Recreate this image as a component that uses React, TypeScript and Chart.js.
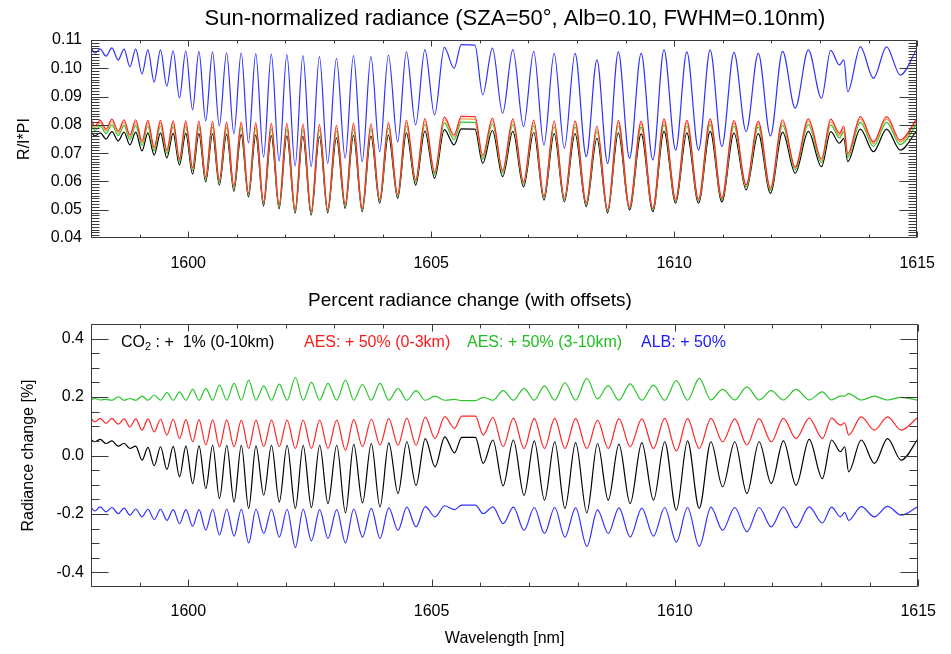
import { useEffect, useRef } from "react";
import { Chart, registerables } from "chart.js";

Chart.register(...registerables);

// ---------- wavelengths (nm) of absorption-line centres and of the continuum points between them
const LINE_NM = [1598.08, 1598.31, 1598.56, 1598.80, 1599.05, 1599.30, 1599.56, 1599.82, 1600.09, 1600.36, 1600.64, 1600.94, 1601.24, 1601.55, 1601.87, 1602.20, 1602.53, 1602.87, 1603.23, 1603.58, 1603.94, 1604.31, 1604.68, 1605.07, 1605.47, 1606.06, 1606.47, 1606.90, 1607.32, 1607.74, 1608.19, 1608.63, 1609.08, 1609.56, 1610.03, 1610.50, 1610.98, 1611.48, 1611.98, 1612.49, 1613.03, 1613.40, 1613.57, 1614.10, 1614.65];
const PEAK_NM = [1598.00, 1598.19, 1598.43, 1598.68, 1598.92, 1599.17, 1599.43, 1599.69, 1599.95, 1600.22, 1600.50, 1600.79, 1601.09, 1601.39, 1601.71, 1602.03, 1602.36, 1602.70, 1603.05, 1603.40, 1603.76, 1604.12, 1604.49, 1604.87, 1605.27, 1605.62, 1605.90, 1606.26, 1606.68, 1607.11, 1607.53, 1607.96, 1608.41, 1608.85, 1609.32, 1609.79, 1610.26, 1610.74, 1611.23, 1611.73, 1612.23, 1612.76, 1613.22, 1613.49, 1613.83, 1614.37, 1615.00];

// ---------- top panel: sun-normalized radiance
const TOP_BLUE_LINE = [0.1054, 0.1043, 0.1029, 0.1005, 0.0980, 0.0952, 0.0937, 0.0895, 0.0853, 0.0814, 0.0796, 0.0768, 0.0736, 0.0686, 0.0672, 0.0655, 0.0652, 0.0664, 0.0682, 0.0670, 0.0705, 0.0740, 0.0800, 0.0835, 0.1000, 0.0906, 0.0841, 0.0794, 0.0729, 0.0717, 0.0688, 0.0664, 0.0682, 0.0676, 0.0711, 0.0711, 0.0723, 0.0776, 0.0761, 0.0859, 0.0894, 0.1012, 0.0917, 0.0965, 0.0976];
const TOP_BLUE_PEAK = [0.1075, 0.1068, 0.1072, 0.1068, 0.1068, 0.1065, 0.1065, 0.1062, 0.1062, 0.1060, 0.1058, 0.1055, 0.1055, 0.1052, 0.1050, 0.1048, 0.1045, 0.1041, 0.1035, 0.1045, 0.1041, 0.1047, 0.1058, 0.1066, 0.1074, 0.1084, 0.1082, 0.1071, 0.1066, 0.1060, 0.1053, 0.1053, 0.1030, 0.1058, 0.1053, 0.1065, 0.1058, 0.1065, 0.1056, 0.1053, 0.1060, 0.1065, 0.1063, 0.1030, 0.1076, 0.1076, 0.1070];
const TOP_BLACK_LINE = [0.0761, 0.0750, 0.0743, 0.0729, 0.0708, 0.0693, 0.0683, 0.0658, 0.0626, 0.0598, 0.0587, 0.0566, 0.0545, 0.0513, 0.0503, 0.0488, 0.0481, 0.0489, 0.0505, 0.0493, 0.0523, 0.0540, 0.0587, 0.0611, 0.0729, 0.0664, 0.0617, 0.0581, 0.0534, 0.0528, 0.0511, 0.0489, 0.0499, 0.0493, 0.0523, 0.0523, 0.0528, 0.0570, 0.0558, 0.0629, 0.0652, 0.0735, 0.0670, 0.0705, 0.0711];
const TOP_BLACK_PEAK = [0.0776, 0.0772, 0.0776, 0.0774, 0.0774, 0.0772, 0.0772, 0.0770, 0.0770, 0.0769, 0.0768, 0.0766, 0.0766, 0.0764, 0.0762, 0.0761, 0.0760, 0.0758, 0.0754, 0.0762, 0.0760, 0.0764, 0.0772, 0.0778, 0.0783, 0.0786, 0.0785, 0.0780, 0.0777, 0.0773, 0.0769, 0.0769, 0.0752, 0.0772, 0.0768, 0.0777, 0.0772, 0.0777, 0.0771, 0.0769, 0.0774, 0.0777, 0.0776, 0.0752, 0.0785, 0.0785, 0.0781];
const TOP_RED_LINE = [0.0796, 0.0785, 0.0778, 0.0764, 0.0743, 0.0721, 0.0711, 0.0680, 0.0648, 0.0616, 0.0605, 0.0584, 0.0559, 0.0527, 0.0517, 0.0499, 0.0492, 0.0500, 0.0519, 0.0504, 0.0537, 0.0554, 0.0605, 0.0633, 0.0764, 0.0692, 0.0639, 0.0599, 0.0548, 0.0542, 0.0525, 0.0500, 0.0510, 0.0504, 0.0537, 0.0537, 0.0542, 0.0588, 0.0576, 0.0651, 0.0680, 0.0770, 0.0698, 0.0740, 0.0746];
const TOP_RED_PEAK = [0.0820, 0.0816, 0.0820, 0.0818, 0.0818, 0.0816, 0.0816, 0.0814, 0.0814, 0.0813, 0.0812, 0.0810, 0.0810, 0.0808, 0.0806, 0.0805, 0.0804, 0.0802, 0.0798, 0.0806, 0.0804, 0.0808, 0.0816, 0.0822, 0.0827, 0.0830, 0.0829, 0.0824, 0.0821, 0.0817, 0.0813, 0.0813, 0.0796, 0.0816, 0.0812, 0.0821, 0.0816, 0.0821, 0.0815, 0.0813, 0.0818, 0.0821, 0.0820, 0.0796, 0.0829, 0.0829, 0.0825];
const TOP_ORANGE_LINE = [0.0789, 0.0778, 0.0771, 0.0757, 0.0736, 0.0715, 0.0705, 0.0676, 0.0644, 0.0612, 0.0601, 0.0580, 0.0556, 0.0524, 0.0514, 0.0497, 0.0490, 0.0498, 0.0516, 0.0502, 0.0534, 0.0551, 0.0601, 0.0629, 0.0757, 0.0686, 0.0635, 0.0595, 0.0545, 0.0539, 0.0522, 0.0498, 0.0508, 0.0502, 0.0534, 0.0534, 0.0539, 0.0584, 0.0572, 0.0647, 0.0674, 0.0763, 0.0692, 0.0733, 0.0739];
const TOP_ORANGE_PEAK = [0.0811, 0.0807, 0.0811, 0.0809, 0.0809, 0.0807, 0.0807, 0.0805, 0.0805, 0.0804, 0.0803, 0.0801, 0.0801, 0.0799, 0.0797, 0.0796, 0.0795, 0.0793, 0.0789, 0.0797, 0.0795, 0.0799, 0.0807, 0.0813, 0.0818, 0.0821, 0.0820, 0.0815, 0.0812, 0.0808, 0.0804, 0.0804, 0.0787, 0.0807, 0.0803, 0.0812, 0.0807, 0.0812, 0.0806, 0.0804, 0.0809, 0.0812, 0.0811, 0.0787, 0.0820, 0.0820, 0.0816];
const TOP_GREEN_LINE = [0.0780, 0.0769, 0.0762, 0.0748, 0.0727, 0.0708, 0.0698, 0.0670, 0.0638, 0.0608, 0.0597, 0.0576, 0.0553, 0.0521, 0.0511, 0.0494, 0.0487, 0.0495, 0.0513, 0.0499, 0.0531, 0.0548, 0.0597, 0.0623, 0.0748, 0.0679, 0.0629, 0.0591, 0.0542, 0.0536, 0.0519, 0.0495, 0.0505, 0.0499, 0.0531, 0.0531, 0.0536, 0.0580, 0.0568, 0.0641, 0.0667, 0.0754, 0.0685, 0.0724, 0.0730];
const TOP_GREEN_PEAK = [0.0800, 0.0796, 0.0800, 0.0798, 0.0798, 0.0796, 0.0796, 0.0794, 0.0794, 0.0793, 0.0792, 0.0790, 0.0790, 0.0788, 0.0786, 0.0785, 0.0784, 0.0782, 0.0778, 0.0786, 0.0784, 0.0788, 0.0796, 0.0802, 0.0807, 0.0810, 0.0809, 0.0804, 0.0801, 0.0797, 0.0793, 0.0793, 0.0776, 0.0796, 0.0792, 0.0801, 0.0796, 0.0801, 0.0795, 0.0793, 0.0798, 0.0801, 0.0800, 0.0776, 0.0809, 0.0809, 0.0805];

// ---------- bottom panel: percent radiance change (with offsets)
const BOT_BLACK_LINE = [0.047, 0.041, 0.032, 0.024, -0.016, -0.035, -0.048, -0.073, -0.096, -0.113, -0.147, -0.159, -0.181, -0.136, -0.159, -0.181, -0.178, -0.164, -0.196, -0.162, -0.176, -0.130, -0.102, -0.039, 0.009, -0.027, -0.104, -0.136, -0.153, -0.181, -0.196, -0.153, -0.165, -0.153, -0.187, -0.181, -0.107, -0.130, -0.096, -0.102, -0.079, 0.013, -0.056, -0.027, -0.016];
const BOT_BLACK_PEAK = [0.055, 0.055, 0.050, 0.042, 0.032, 0.028, 0.030, 0.031, 0.032, 0.033, 0.035, 0.035, 0.035, 0.033, 0.035, 0.035, 0.035, 0.035, 0.035, 0.038, 0.041, 0.043, 0.047, 0.058, 0.064, 0.062, 0.062, 0.053, 0.053, 0.050, 0.047, 0.044, 0.041, 0.039, 0.044, 0.047, 0.050, 0.047, 0.047, 0.047, 0.050, 0.055, 0.053, 0.030, 0.053, 0.058, 0.058];
const BOT_RED_LINE = [0.115, 0.110, 0.107, 0.098, 0.087, 0.081, 0.070, 0.058, 0.047, 0.036, 0.030, 0.030, 0.024, 0.030, 0.030, 0.024, 0.024, 0.024, 0.018, 0.030, 0.036, 0.035, 0.035, 0.058, 0.093, 0.070, 0.030, 0.024, 0.024, 0.024, 0.024, 0.024, 0.030, 0.024, 0.016, 0.024, 0.047, 0.036, 0.047, 0.058, 0.058, 0.104, 0.070, 0.087, 0.087];
const BOT_RED_PEAK = [0.127, 0.127, 0.127, 0.125, 0.125, 0.125, 0.124, 0.124, 0.123, 0.123, 0.122, 0.122, 0.121, 0.121, 0.121, 0.121, 0.121, 0.121, 0.121, 0.123, 0.124, 0.126, 0.128, 0.131, 0.133, 0.135, 0.135, 0.130, 0.128, 0.127, 0.127, 0.126, 0.121, 0.126, 0.125, 0.127, 0.126, 0.127, 0.125, 0.126, 0.127, 0.128, 0.128, 0.112, 0.132, 0.132, 0.132];
const BOT_GREEN_LINE = [0.195, 0.192, 0.201, 0.195, 0.203, 0.207, 0.215, 0.218, 0.226, 0.230, 0.241, 0.247, 0.258, 0.238, 0.244, 0.267, 0.250, 0.247, 0.258, 0.243, 0.247, 0.230, 0.222, 0.203, 0.192, 0.199, 0.222, 0.230, 0.238, 0.249, 0.264, 0.239, 0.245, 0.241, 0.256, 0.264, 0.226, 0.235, 0.222, 0.226, 0.218, 0.203, 0.212, 0.203, 0.199];
const BOT_GREEN_PEAK = [0.190, 0.190, 0.189, 0.189, 0.189, 0.189, 0.189, 0.189, 0.189, 0.189, 0.189, 0.189, 0.189, 0.189, 0.189, 0.189, 0.189, 0.189, 0.189, 0.189, 0.189, 0.189, 0.189, 0.189, 0.189, 0.188, 0.188, 0.189, 0.189, 0.189, 0.189, 0.189, 0.194, 0.189, 0.189, 0.189, 0.189, 0.190, 0.190, 0.190, 0.190, 0.190, 0.190, 0.203, 0.190, 0.190, 0.189];
const BOT_BLUE_LINE = [-0.190, -0.193, -0.199, -0.204, -0.210, -0.219, -0.222, -0.233, -0.242, -0.255, -0.272, -0.276, -0.299, -0.267, -0.279, -0.315, -0.292, -0.284, -0.299, -0.279, -0.284, -0.256, -0.244, -0.210, -0.185, -0.199, -0.233, -0.256, -0.267, -0.279, -0.311, -0.267, -0.279, -0.276, -0.296, -0.311, -0.256, -0.261, -0.244, -0.247, -0.231, -0.210, -0.222, -0.210, -0.204];
const BOT_BLUE_PEAK = [-0.178, -0.176, -0.178, -0.180, -0.183, -0.184, -0.184, -0.185, -0.185, -0.185, -0.184, -0.184, -0.184, -0.184, -0.184, -0.184, -0.184, -0.185, -0.185, -0.183, -0.181, -0.179, -0.177, -0.175, -0.172, -0.170, -0.170, -0.176, -0.177, -0.178, -0.178, -0.179, -0.186, -0.179, -0.180, -0.178, -0.178, -0.177, -0.178, -0.178, -0.177, -0.176, -0.177, -0.195, -0.175, -0.174, -0.174];

// ---------- axis tick labels
const X_TICKS = [1600, 1605, 1610, 1615];
const TOP_Y_TICKS = [0.04, 0.05, 0.06, 0.07, 0.08, 0.09, 0.10, 0.11];
const BOT_Y_TICKS = [-0.4, -0.2, 0.0, 0.2, 0.4];

const FONT = "'Liberation Sans', Arial, Helvetica, sans-serif";
const AXIS_COLOR = "#3a3a3a";
const C_BLACK = "#000000";
const C_RED = "#ff2424";
const C_ORANGE = "#e8a04a";
const C_GREEN = "#2cc42c";
const C_BLUE = "#3030ff";

function spectrum(lineVals: number[], peakVals: number[]) {
  const pts = LINE_NM.map((x, i) => ({ x, y: lineVals[i] })).concat(
    PEAK_NM.map((x, i) => ({ x, y: peakVals[i] }))
  );
  pts.sort((a, b) => a.x - b.x);
  return pts;
}

function ds(label: string, color: string, lineVals: number[], peakVals: number[]) {
  return {
    label,
    data: spectrum(lineVals, peakVals),
    borderColor: color,
    backgroundColor: color,
    borderWidth: 1.2,
    pointRadius: 0,
    fill: false,
    cubicInterpolationMode: "monotone" as const,
  };
}

type YT = { v: number; major: boolean };

function decorPlugin(yTicks: YT[], xMajorLen: number, xMinorLen: number) {
  return {
    id: "decor",
    afterDatasetsDraw(chart: any) {
      const { ctx, chartArea: a } = chart;
      const xs = chart.scales.x;
      const ys = chart.scales.y;
      const L = Math.round(a.left) + 0.5;
      const R = Math.round(a.right) - 0.5;
      const T = Math.round(a.top) + 0.5;
      const B = Math.round(a.bottom) - 0.5;
      ctx.save();
      ctx.strokeStyle = AXIS_COLOR;
      ctx.lineWidth = 1;
      ctx.beginPath();
      ctx.rect(L, T, R - L, B - T);
      for (let w = Math.ceil(xs.min); w <= xs.max; w++) {
        const px = Math.round(xs.getPixelForValue(w)) + 0.5;
        const len = w % 5 === 0 ? xMajorLen : xMinorLen;
        ctx.moveTo(px, B);
        ctx.lineTo(px, B - len);
        ctx.moveTo(px, T);
        ctx.lineTo(px, T + len);
      }
      for (const t of yTicks) {
        const py = Math.round(ys.getPixelForValue(t.v)) + 0.5;
        const len = t.major ? 17 : 8;
        ctx.moveTo(L, py);
        ctx.lineTo(L + len, py);
        ctx.moveTo(R, py);
        ctx.lineTo(R - len, py);
      }
      ctx.stroke();
      ctx.restore();
    },
  };
}

type Part = { t: string; size: number; dy?: number };
type TextItem = { x: number; y: number; color: string; align: CanvasTextAlign; parts: Part[] };

function textPlugin(items: TextItem[]) {
  return {
    id: "texts",
    afterDraw(chart: any) {
      const ctx = chart.ctx as CanvasRenderingContext2D;
      ctx.save();
      ctx.textBaseline = "middle";
      for (const it of items) {
        let total = 0;
        for (const p of it.parts) {
          ctx.font = `${p.size}px ${FONT}`;
          total += ctx.measureText(p.t).width;
        }
        let x = it.align === "center" ? it.x - total / 2 : it.x;
        ctx.textAlign = "left";
        ctx.fillStyle = it.color;
        for (const p of it.parts) {
          ctx.font = `${p.size}px ${FONT}`;
          ctx.fillText(p.t, x, it.y + (p.dy || 0));
          x += ctx.measureText(p.t).width;
        }
      }
      ctx.restore();
    },
  };
}

function baseX(height: number, padding: number, withTitle: boolean) {
  return {
    type: "linear" as const,
    min: 1598,
    max: 1615,
    position: "bottom" as const,
    afterBuildTicks: (s: any) => {
      s.ticks = X_TICKS.map((v) => ({ value: v }));
    },
    afterFit: (s: any) => {
      s.height = height;
    },
    grid: { display: false, drawTicks: false },
    border: { display: false },
    ticks: {
      padding,
      autoSkip: false,
      maxRotation: 0,
      color: "#000",
      font: { family: FONT, size: 16 },
      callback: (v: any) => String(v),
    },
    title: {
      display: withTitle,
      text: "Wavelength [nm]",
      color: "#000",
      font: { family: FONT, size: 16 },
      padding: { top: 0, bottom: 6 },
    },
  };
}

export default function App() {
  const topRef = useRef<HTMLCanvasElement>(null);
  const botRef = useRef<HTMLCanvasElement>(null);

  useEffect(() => {
    const topYTicks: YT[] = [];
    for (let i = 41; i < 110; i++) topYTicks.push({ v: i / 1000, major: i % 10 === 0 });
    const botYTicks: YT[] = [];
    for (let i = -8; i <= 8; i++) botYTicks.push({ v: i * 0.05, major: i % 4 === 0 });

    const top = new Chart(topRef.current as HTMLCanvasElement, {
      type: "line",
      data: {
        datasets: [
          ds("AES 0-3km", C_RED, TOP_RED_LINE, TOP_RED_PEAK),
          ds("unlabelled", C_ORANGE, TOP_ORANGE_LINE, TOP_ORANGE_PEAK),
          ds("AES 3-10km", C_GREEN, TOP_GREEN_LINE, TOP_GREEN_PEAK),
          ds("CO2", C_BLACK, TOP_BLACK_LINE, TOP_BLACK_PEAK),
          ds("ALB", C_BLUE, TOP_BLUE_LINE, TOP_BLUE_PEAK),
        ] as any,
      },
      options: {
        animation: false,
        responsive: false,
        devicePixelRatio: 1,
        layout: { padding: { top: 40, right: 23, left: 0, bottom: 0 } },
        plugins: { legend: { display: false }, tooltip: { enabled: false }, title: { display: false } },
        scales: {
          x: baseX(42, 16, false) as any,
          y: {
            type: "linear",
            min: 0.04,
            max: 0.11,
            afterBuildTicks: (s: any) => {
              s.ticks = TOP_Y_TICKS.map((v) => ({ value: v }));
            },
            afterFit: (s: any) => {
              s.width = 91;
            },
            grid: { display: false, drawTicks: false },
            border: { display: false },
            ticks: {
              padding: 9,
              color: "#000",
              font: { family: FONT, size: 16 },
              callback: (v: any) => Number(v).toFixed(2),
            },
            title: {
              display: true,
              text: "R/I*PI",
              color: "#000",
              font: { family: FONT, size: 16 },
              padding: { top: 15, bottom: 0 },
            },
          } as any,
        },
      },
      plugins: [
        decorPlugin(topYTicks, 6, 3),
        textPlugin([
          {
            x: 515,
            y: 19,
            color: "#000",
            align: "center",
            parts: [{ t: "Sun-normalized radiance (SZA=50°, Alb=0.10, FWHM=0.10nm)", size: 22 }],
          },
        ]),
      ],
    });

    const bot = new Chart(botRef.current as HTMLCanvasElement, {
      type: "line",
      data: {
        datasets: [
          ds("AES: + 50% (0-3km)", C_RED, BOT_RED_LINE, BOT_RED_PEAK),
          ds("AES: + 50% (3-10km)", C_GREEN, BOT_GREEN_LINE, BOT_GREEN_PEAK),
          ds("CO2: + 1% (0-10km)", C_BLACK, BOT_BLACK_LINE, BOT_BLACK_PEAK),
          ds("ALB: + 50%", C_BLUE, BOT_BLUE_LINE, BOT_BLUE_PEAK),
        ] as any,
      },
      options: {
        animation: false,
        responsive: false,
        devicePixelRatio: 1,
        layout: { padding: { top: 44, right: 23, left: 0, bottom: 0 } },
        plugins: { legend: { display: false }, tooltip: { enabled: false }, title: { display: false } },
        scales: {
          x: baseX(67, 15, true) as any,
          y: {
            type: "linear",
            min: -0.45,
            max: 0.45,
            afterBuildTicks: (s: any) => {
              s.ticks = BOT_Y_TICKS.map((v) => ({ value: v }));
            },
            afterFit: (s: any) => {
              s.width = 91;
            },
            grid: { display: false, drawTicks: false },
            border: { display: false },
            ticks: {
              padding: 7,
              color: "#000",
              font: { family: FONT, size: 16 },
              callback: (v: any) => Number(v).toFixed(1),
            },
            title: {
              display: true,
              text: "Radiance change [%]",
              color: "#000",
              font: { family: FONT, size: 16 },
              padding: { top: 19, bottom: 0 },
            },
          } as any,
        },
      },
      plugins: [
        decorPlugin(botYTicks, 7, 4),
        textPlugin([
          {
            x: 470,
            y: 21,
            color: "#000",
            align: "center",
            parts: [{ t: "Percent radiance change (with offsets)", size: 19 }],
          },
          {
            x: 121,
            y: 63,
            color: C_BLACK,
            align: "left",
            parts: [
              { t: "CO", size: 16 },
              { t: "2", size: 11, dy: 4 },
              { t: " : +  1% (0-10km)", size: 16 },
            ],
          },
          { x: 304, y: 63, color: "#ff1a1a", align: "left", parts: [{ t: "AES: + 50% (0-3km)", size: 16 }] },
          { x: 467, y: 63, color: "#1fbf1f", align: "left", parts: [{ t: "AES: + 50% (3-10km)", size: 16 }] },
          { x: 641, y: 63, color: "#1a1aff", align: "left", parts: [{ t: "ALB: + 50%", size: 16 }] },
        ]),
      ],
    });

    return () => {
      top.destroy();
      bot.destroy();
    };
  }, []);

  return (
    <div style={{ position: "absolute", left: 0, top: 0, width: 951, height: 654, background: "#fff" }}>
      <canvas ref={topRef} width={951} height={280} style={{ position: "absolute", left: 0, top: 0 }} />
      <canvas ref={botRef} width={951} height={374} style={{ position: "absolute", left: 0, top: 280 }} />
    </div>
  );
}
